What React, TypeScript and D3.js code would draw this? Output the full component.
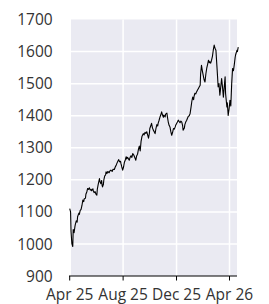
import React from "react";
import * as d3 from "d3";

const dates: string[] = [
  "2025-04-01","2025-04-03","2025-04-04","2025-04-06","2025-04-08","2025-04-09","2025-04-11","2025-04-13","2025-04-14","2025-04-16",
  "2025-04-18","2025-04-19","2025-04-22","2025-04-23","2025-04-25","2025-04-27","2025-04-29","2025-05-01","2025-05-03","2025-05-04",
  "2025-05-07","2025-05-08","2025-05-10","2025-05-12","2025-05-14","2025-05-16","2025-05-18","2025-05-20","2025-05-21","2025-05-24",
  "2025-05-25","2025-05-27","2025-05-29","2025-05-31","2025-06-02","2025-06-03","2025-06-05","2025-06-08","2025-06-09","2025-06-11",
  "2025-06-13","2025-06-14","2025-06-15","2025-06-17","2025-06-18","2025-06-20","2025-06-22","2025-06-23","2025-06-25","2025-06-27",
  "2025-06-30","2025-07-02","2025-07-04","2025-07-07","2025-07-09","2025-07-12","2025-07-14","2025-07-16","2025-07-18","2025-07-20",
  "2025-07-22","2025-07-24","2025-07-26","2025-07-27","2025-07-29","2025-07-31","2025-08-02","2025-08-04","2025-08-06","2025-08-08",
  "2025-08-09","2025-08-11","2025-08-13","2025-08-15","2025-08-17","2025-08-19","2025-08-21","2025-08-23","2025-08-25","2025-08-27",
  "2025-08-29","2025-08-30","2025-09-01","2025-09-03","2025-09-05","2025-09-07","2025-09-09","2025-09-11","2025-09-13","2025-09-16",
  "2025-09-18","2025-09-20","2025-09-22","2025-09-24","2025-09-26","2025-09-28","2025-09-30","2025-10-01","2025-10-03","2025-10-05",
  "2025-10-07","2025-10-09","2025-10-11","2025-10-13","2025-10-15","2025-10-17","2025-10-19","2025-10-20","2025-10-22","2025-10-24",
  "2025-10-26","2025-10-28","2025-10-30","2025-11-01","2025-11-02","2025-11-05","2025-11-06","2025-11-09","2025-11-10","2025-11-12",
  "2025-11-14","2025-11-16","2025-11-18","2025-11-20","2025-11-22","2025-11-24","2025-11-26","2025-11-28","2025-11-29","2025-12-01",
  "2025-12-03","2025-12-05","2025-12-07","2025-12-09","2025-12-11","2025-12-13","2025-12-15","2025-12-16","2025-12-19","2025-12-20",
  "2025-12-22","2025-12-24","2025-12-26","2025-12-28","2025-12-30","2026-01-01","2026-01-03","2026-01-05","2026-01-07","2026-01-09",
  "2026-01-10","2026-01-12","2026-01-14","2026-01-16","2026-01-18","2026-01-20","2026-01-22","2026-01-24","2026-01-25","2026-01-27",
  "2026-01-29","2026-01-31","2026-02-02","2026-02-04","2026-02-06","2026-02-08","2026-02-10","2026-02-12","2026-02-14","2026-02-15",
  "2026-02-17","2026-02-19","2026-02-21","2026-02-23","2026-02-25","2026-02-27","2026-03-01","2026-03-03","2026-03-05","2026-03-06",
  "2026-03-08","2026-03-10","2026-03-12","2026-03-14","2026-03-16","2026-03-18","2026-03-20","2026-03-22","2026-03-23","2026-03-26",
  "2026-03-27","2026-03-29","2026-03-31","2026-04-02","2026-04-04","2026-04-06","2026-04-08","2026-04-10","2026-04-12","2026-04-14",
  "2026-04-15","2026-04-18","2026-04-19","2026-04-21"
];

const values: number[] = [
  1110,1100,1040,1000,992,1045,1035,1055,1062,1072,
  1068,1085,1096,1092,1105,1108,1120,1137,1132,1140,
  1143,1155,1162,1173,1170,1175,1168,1170,1166,1172,
  1165,1160,1163,1155,1152,1170,1185,1204,1195,1188,
  1198,1183,1178,1186,1200,1212,1215,1225,1220,1226,
  1222,1228,1230,1226,1233,1232,1240,1245,1252,1258,
  1263,1256,1258,1251,1240,1230,1240,1255,1262,1272,
  1265,1270,1266,1261,1270,1275,1270,1282,1278,1272,
  1265,1261,1275,1280,1295,1305,1290,1320,1335,1344,
  1340,1348,1345,1350,1340,1330,1345,1360,1368,1376,
  1362,1355,1350,1344,1360,1372,1368,1376,1385,1395,
  1402,1412,1402,1395,1402,1396,1405,1408,1398,1381,
  1370,1365,1350,1339,1348,1360,1358,1365,1370,1375,
  1380,1386,1382,1378,1383,1380,1368,1355,1362,1372,
  1380,1385,1392,1398,1400,1407,1425,1445,1458,1450,
  1460,1470,1468,1475,1480,1485,1490,1495,1530,1557,
  1540,1526,1512,1505,1530,1548,1560,1573,1565,1568,
  1564,1573,1585,1605,1620,1610,1604,1560,1515,1490,
  1500,1464,1490,1516,1490,1458,1490,1521,1470,1427,
  1440,1401,1420,1448,1430,1500,1547,1540,1560,1583,
  1590,1604,1600,1614
];

const yTicks: number[] = [900, 1000, 1100, 1200, 1300, 1400, 1500, 1600, 1700];
const xTickDates: string[] = ["2025-04-01", "2025-08-01", "2025-12-01", "2026-04-01"];
const xTickLabels: string[] = ["Apr 25", "Aug 25", "Dec 25", "Apr 26"];

const W = 269;
const H = 304;

export default function App() {
  const parse = d3.utcParse("%Y-%m-%d");
  const data = dates.map((d, i) => ({ date: parse(d) as Date, value: values[i] }));
  const x = d3
    .scaleUtc()
    .domain([parse("2025-04-01") as Date, parse("2026-04-01") as Date])
    .range([69.7, 229.5]);
  const y = d3.scaleLinear().domain([900, 1700]).range([276, 19.5]);

  const panelLeft = 71;
  const panelRight = 237;
  const panelTop = y(1700);
  const panelBottom = y(900);

  const line = d3
    .line<{ date: Date; value: number }>()
    .x((d) => x(d.date))
    .y((d) => y(d.value));

  const font = "'Open Sans', sans-serif";
  const textColor = "#333333";
  const fs = 15.5;

  return (
    <svg
      width={W}
      height={H}
      style={{ position: "absolute", left: 0, top: 0, background: "#ffffff" }}
    >
      <rect
        x={panelLeft}
        y={panelTop}
        width={panelRight - panelLeft}
        height={panelBottom - panelTop}
        fill="#EAEAF2"
      />
      {yTicks
        .filter((t) => t > 900 && t < 1700)
        .map((t) => (
          <line
            key={"gy" + t}
            x1={panelLeft}
            x2={panelRight}
            y1={y(t)}
            y2={y(t)}
            stroke="#ffffff"
            strokeWidth={1.5}
          />
        ))}
      {xTickDates.map((d) => {
        const px = x(parse(d) as Date);
        if (px <= panelLeft) return null;
        return (
          <line
            key={"gx" + d}
            x1={px}
            x2={px}
            y1={panelTop}
            y2={panelBottom}
            stroke="#ffffff"
            strokeWidth={1.5}
          />
        );
      })}
      <path d={line(data) || ""} fill="none" stroke="#000000" strokeWidth={1.1} strokeLinejoin="round" />
      <line x1={69} x2={panelRight} y1={panelBottom} y2={panelBottom} stroke="#000000" strokeWidth={1} />
      {xTickDates.map((d, i) => {
        const px = x(parse(d) as Date);
        return (
          <g key={"xt" + d}>
            <line x1={px} x2={px} y1={panelBottom} y2={panelBottom + 4.5} stroke="#000000" strokeWidth={1} />
            <text
              x={px}
              y={300}
              textAnchor="middle"
              fontFamily={font}
              fontSize={fs}
              fill={textColor}
            >
              {xTickLabels[i]}
            </text>
          </g>
        );
      })}
      {yTicks.map((t) => (
        <text
          key={"yt" + t}
          x={52.7}
          y={y(t)}
          dy="0.36em"
          textAnchor="end"
          fontFamily={font}
          fontSize={fs}
          fill={textColor}
        >
          {t}
        </text>
      ))}
    </svg>
  );
}
